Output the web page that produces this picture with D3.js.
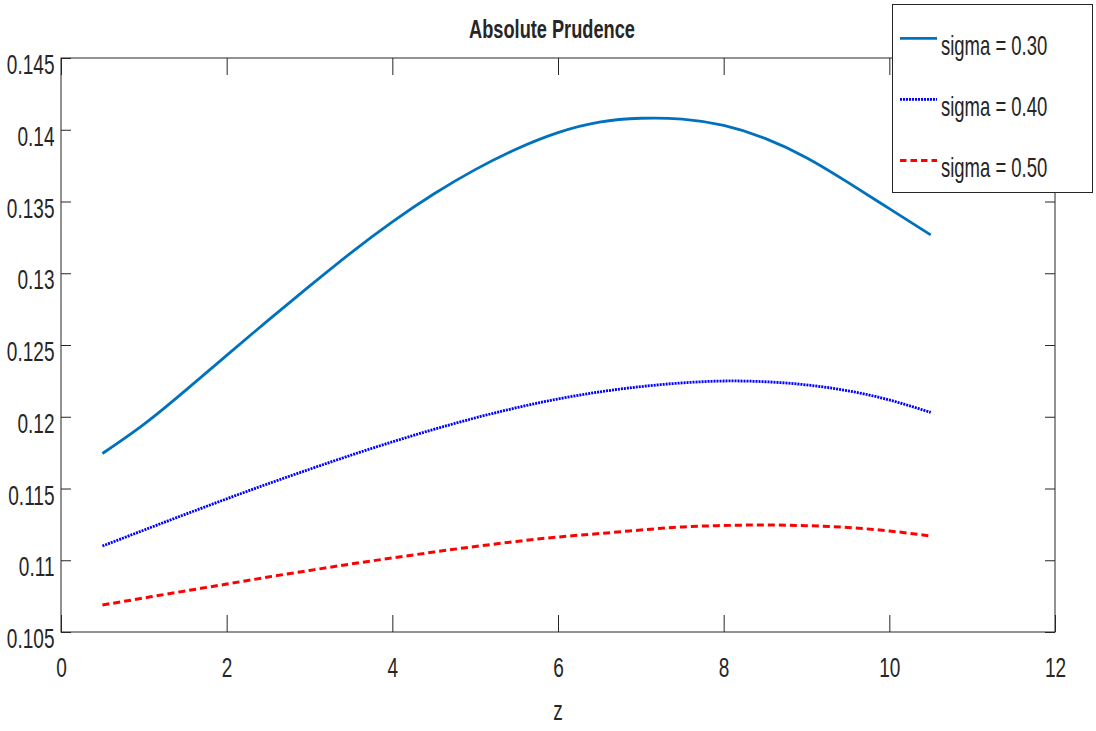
<!DOCTYPE html>
<html>
<head>
<meta charset="utf-8">
<script src="https://cdn.jsdelivr.net/npm/d3@7"></script>
<style>
  html, body { margin: 0; padding: 0; background: #fff; }
  svg { display: block; }
  text { font-family: "Liberation Sans", Arial, sans-serif; fill: #262626; }
</style>
</head>
<body>
<svg id="chart" width="1096" height="731"></svg>
<script>
// ---- data ----
const zValues = [0.5, 1, 1.5, 2, 2.5, 3, 3.5, 4, 4.5, 5, 5.5, 6, 6.5, 7, 7.5, 8, 8.5, 9, 9.5, 10, 10.5];
const sigma030 = [0.11744, 0.11947, 0.12182, 0.12428, 0.12672, 0.12910, 0.13142, 0.13358, 0.13552, 0.13722, 0.13866, 0.13980, 0.14053, 0.14080, 0.14074, 0.14030, 0.13940, 0.13805, 0.13633, 0.13450, 0.13267];
const sigma040 = [0.11099, 0.11210, 0.11320, 0.11428, 0.11533, 0.11634, 0.11732, 0.11825, 0.11912, 0.11992, 0.12063, 0.12124, 0.12173, 0.12210, 0.12236, 0.12249, 0.12244, 0.12222, 0.12181, 0.12117, 0.12030];
const sigma050 = [0.10688, 0.10737, 0.10786, 0.10834, 0.10883, 0.10929, 0.10974, 0.11016, 0.11057, 0.11096, 0.11131, 0.11162, 0.11186, 0.11211, 0.11232, 0.11242, 0.11246, 0.11241, 0.11228, 0.11204, 0.11169];
const seriesNames = ["sigma = 0.30", "sigma = 0.40", "sigma = 0.50"];
const xTicks = [0, 2, 4, 6, 8, 10, 12];
const xTickLabels = ["0", "2", "4", "6", "8", "10", "12"];
const yTicks = [0.105, 0.11, 0.115, 0.12, 0.125, 0.13, 0.135, 0.14, 0.145];
const yTickLabels = ["0.105", "0.11", "0.115", "0.12", "0.125", "0.13", "0.135", "0.14", "0.145"];
const titleText = "Absolute Prudence";
const xLabelText = "z";

// ---- layout ----
const L = 61, R = 1055, T = 58, B = 632;
const axisColor = "#262626";
const sx = 0.68;

const svg = d3.select("#chart");
const x = d3.scaleLinear().domain([0, 12]).range([L, R]);
const y = d3.scaleLinear().domain([0.105, 0.145]).range([B, T]);

// box
svg.append("rect").attr("x", L).attr("y", T).attr("width", R - L).attr("height", B - T)
  .attr("fill", "none").attr("stroke", axisColor).attr("stroke-width", 1);

function styleAxis(g) {
  g.select(".domain").remove();
  g.selectAll(".tick line").attr("stroke", axisColor).attr("stroke-width", 1);
}

// bottom axis (ticks inside)
const gx = svg.append("g").attr("transform", `translate(0,${B})`)
  .call(d3.axisBottom(x).tickValues(xTicks).tickSizeInner(-17).tickSizeOuter(0)
    .tickFormat((d, i) => xTickLabels[i]));
styleAxis(gx);
gx.selectAll(".tick text")
  .attr("y", 45).attr("dy", null)
  .attr("font-size", 28).attr("fill", axisColor)
  .attr("transform", `scale(${sx},1)`);

// top axis ticks
const gxt = svg.append("g").attr("transform", `translate(0,${T})`)
  .call(d3.axisTop(x).tickValues(xTicks).tickSizeInner(-17).tickSizeOuter(0).tickFormat(""));
styleAxis(gxt);

// left axis
const gy = svg.append("g").attr("transform", `translate(${L},0)`)
  .call(d3.axisLeft(y).tickValues(yTicks).tickSizeInner(-10).tickSizeOuter(0)
    .tickFormat((d, i) => yTickLabels[i]));
styleAxis(gy);
gy.selectAll(".tick text")
  .attr("x", -6.5 / sx).attr("y", 15.5).attr("dy", null)
  .attr("text-anchor", "end")
  .attr("font-size", 28).attr("fill", axisColor)
  .attr("transform", `scale(${sx},1)`);

// right axis ticks
const gyr = svg.append("g").attr("transform", `translate(${R},0)`)
  .call(d3.axisRight(y).tickValues(yTicks).tickSizeInner(-10).tickSizeOuter(0).tickFormat(""));
styleAxis(gyr);

// ---- lines ----
const line = d3.line().x((d, i) => x(zValues[i])).y(d => y(d)).curve(d3.curveNatural);
const styles = [
  { data: sigma030, color: "#0072BD", width: 2.8, dash: null },
  { data: sigma040, color: "#0000FF", width: 2.8, dash: "2,1" },
  { data: sigma050, color: "#FF0000", width: 3, dash: "7,4" }
];
styles.forEach(s => {
  svg.append("path").datum(s.data)
    .attr("d", line)
    .attr("fill", "none")
    .attr("stroke", s.color)
    .attr("stroke-width", s.width)
    .attr("stroke-dasharray", s.dash);
});

// ---- title & x label ----
svg.append("g").attr("transform", "translate(552,37.5)")
  .append("text").attr("text-anchor", "middle").attr("font-size", 26).attr("font-weight", "bold")
  .attr("fill", "#000").attr("transform", "scale(0.7,1)").text(titleText);

svg.append("g").attr("transform", `translate(${(L + R) / 2},720)`)
  .append("text").attr("text-anchor", "middle").attr("font-size", 28).attr("fill", axisColor)
  .attr("transform", `scale(${sx},1)`).text(xLabelText);

// ---- legend ----
const leg = svg.append("g");
leg.append("rect").attr("x", 892.5).attr("y", 4.5).attr("width", 200).attr("height", 188)
  .attr("fill", "#fff").attr("stroke", axisColor).attr("stroke-width", 1);
const legLineY = [38.3, 99.3, 160.5];
const legendDash = [null, "2,1", "6.5,4"];
styles.forEach((s, i) => {
  leg.append("line").attr("x1", 900).attr("x2", 937).attr("y1", legLineY[i]).attr("y2", legLineY[i])
    .attr("stroke", s.color).attr("stroke-width", s.width).attr("stroke-dasharray", legendDash[i]);
  leg.append("g").attr("transform", `translate(941,${legLineY[i] + 16.5})`)
    .append("text").attr("font-size", 28).attr("fill", "#000")
    .attr("transform", "scale(0.66,1)").text(seriesNames[i]);
});
</script>
</body>
</html>
